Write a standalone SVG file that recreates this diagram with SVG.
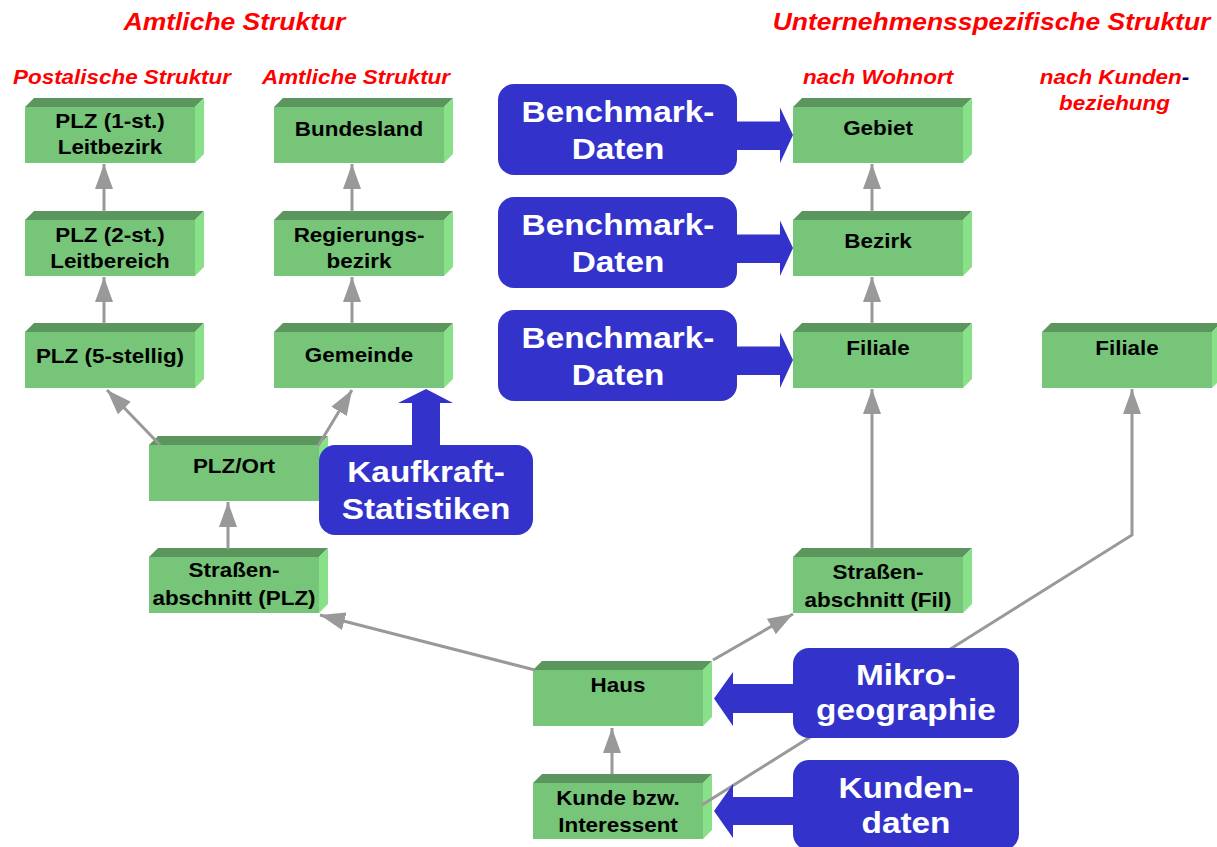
<svg xmlns="http://www.w3.org/2000/svg" width="1217" height="847" viewBox="0 0 1217 847">
<style>
text{font-family:"Liberation Sans",Arial,sans-serif;font-weight:bold;text-anchor:middle}
.t1{font-size:23px;font-style:italic;fill:#FF0000}
.t2{font-size:19.5px;font-style:italic;fill:#FF0000}
.bt{font-size:19.5px;fill:#000}
.wt{font-size:29px;fill:#fff}
.front{fill:#76C578}
.top{fill:#5B965F}
.side{fill:#88E088}
.blue{fill:#3333CC}
.ln{stroke:#999;stroke-width:3;fill:none}
</style>
<defs>
<marker id="ah" markerUnits="userSpaceOnUse" markerWidth="26" markerHeight="18" refX="25" refY="9" orient="auto">
<path d="M0,0 L25,9 L0,18 z" fill="#999"/>
</marker>
<g id="box">
<rect class="front" x="0" y="0" width="170" height="56"/>
<polygon class="top" points="0,0 9,-9 179,-9 170,0"/>
<polygon class="side" points="170,0 179,-9 179,47 170,56"/>
</g>
</defs>

<g id="titles">
<text class="t1" transform="translate(234.5,29.5) scale(1.15,1)">Amtliche Struktur</text>
<text class="t1" transform="translate(991.5,29.5) scale(1.15,1)">Unternehmensspezifische Struktur</text>
<text class="t2" transform="translate(122,84) scale(1.15,1)">Postalische Struktur</text>
<text class="t2" transform="translate(356,84) scale(1.15,1)">Amtliche Struktur</text>
<text class="t2" transform="translate(878,84) scale(1.15,1)">nach Wohnort</text>
<text class="t2" transform="translate(1114.5,84) scale(1.15,1)">nach Kunden<tspan fill="#000066">-</tspan></text>
<text class="t2" transform="translate(1114.5,110) scale(1.15,1)">beziehung</text>
</g>

<g id="plz1">
<use href="#box" x="25" y="107"/>
<text class="bt" transform="translate(110,128) scale(1.15,1)">PLZ (1-st.)</text>
<text class="bt" transform="translate(110,154) scale(1.15,1)">Leitbezirk</text>
</g>
<g id="plz2">
<use href="#box" x="25" y="220"/>
<text class="bt" transform="translate(110,242) scale(1.15,1)">PLZ (2-st.)</text>
<text class="bt" transform="translate(110,268) scale(1.15,1)">Leitbereich</text>
</g>
<g id="plz5">
<use href="#box" x="25" y="332"/>
<text class="bt" transform="translate(110,362.5) scale(1.15,1)">PLZ (5-stellig)</text>
</g>
<g id="bundesland">
<use href="#box" x="274" y="107"/>
<text class="bt" transform="translate(359,135.5) scale(1.15,1)">Bundesland</text>
</g>
<g id="regbezirk">
<use href="#box" x="274" y="220"/>
<text class="bt" transform="translate(359,242) scale(1.15,1)">Regierungs-</text>
<text class="bt" transform="translate(359,268) scale(1.15,1)">bezirk</text>
</g>
<g id="gemeinde">
<use href="#box" x="274" y="332"/>
<text class="bt" transform="translate(359,361.5) scale(1.15,1)">Gemeinde</text>
</g>
<g id="plzort">
<use href="#box" x="149" y="445"/>
<text class="bt" transform="translate(234,472.5) scale(1.15,1)">PLZ/Ort</text>
</g>
<g id="strplz">
<use href="#box" x="149" y="557"/>
<text class="bt" transform="translate(234,577) scale(1.15,1)">Straßen-</text>
<text class="bt" transform="translate(234,605) scale(1.15,1)">abschnitt (PLZ)</text>
</g>
<g id="gebiet">
<use href="#box" x="793" y="107"/>
<text class="bt" transform="translate(878,135) scale(1.15,1)">Gebiet</text>
</g>
<g id="bezirk">
<use href="#box" x="793" y="220"/>
<text class="bt" transform="translate(878,248) scale(1.15,1)">Bezirk</text>
</g>
<g id="filiale1">
<use href="#box" x="793" y="332"/>
<text class="bt" transform="translate(878,355) scale(1.15,1)">Filiale</text>
</g>
<g id="filiale2">
<use href="#box" x="1042" y="332"/>
<text class="bt" transform="translate(1127,355) scale(1.15,1)">Filiale</text>
</g>
<g id="strfil">
<use href="#box" x="793" y="557"/>
<text class="bt" transform="translate(878,579) scale(1.15,1)">Straßen-</text>
<text class="bt" transform="translate(878,607) scale(1.15,1)">abschnitt (Fil)</text>
</g>
<g id="haus">
<use href="#box" x="533" y="670"/>
<text class="bt" transform="translate(618,691.5) scale(1.15,1)">Haus</text>
</g>
<g id="kunde">
<use href="#box" x="533" y="783"/>
<text class="bt" transform="translate(618,805) scale(1.15,1)">Kunde bzw.</text>
<text class="bt" transform="translate(618,832) scale(1.15,1)">Interessent</text>
</g>

<g id="connectors">
<line class="ln" x1="104" y1="212" x2="104" y2="164" marker-end="url(#ah)"/>
<line class="ln" x1="104" y1="324" x2="104" y2="277" marker-end="url(#ah)"/>
<line class="ln" x1="352" y1="212" x2="352" y2="164" marker-end="url(#ah)"/>
<line class="ln" x1="352" y1="324" x2="352" y2="277" marker-end="url(#ah)"/>
<line class="ln" x1="872" y1="212" x2="872" y2="164" marker-end="url(#ah)"/>
<line class="ln" x1="872" y1="324" x2="872" y2="277" marker-end="url(#ah)"/>
<line class="ln" x1="872" y1="549" x2="872" y2="389" marker-end="url(#ah)"/>
<polyline class="ln" points="702,805 1132,535 1132,389" marker-end="url(#ah)"/>
<line class="ln" x1="612" y1="774" x2="612" y2="728" marker-end="url(#ah)"/>
<line class="ln" x1="228" y1="549" x2="228" y2="502" marker-end="url(#ah)"/>
<line class="ln" x1="160" y1="445" x2="107" y2="390" marker-end="url(#ah)"/>
<line class="ln" x1="318" y1="446" x2="352" y2="390" marker-end="url(#ah)"/>
<line class="ln" x1="535" y1="670" x2="320" y2="615" marker-end="url(#ah)"/>
<line class="ln" x1="713" y1="660" x2="793" y2="614" marker-end="url(#ah)"/>
<polygon class="blue" points="737,121.5 780,121.5 780,107.5 793,135 780,163 780,150 737,150"/>
<polygon class="blue" points="737,234.5 780,234.5 780,220.5 793,248 780,276 780,263 737,263"/>
<polygon class="blue" points="737,346.5 780,346.5 780,332.5 793,360 780,388 780,375 737,375"/>
<polygon class="blue" points="412,445 412,403 398,403 426,389 453,403 440,403 440,445"/>
<polygon class="blue" points="793,684 733,684 733,672 714,698.5 733,726 733,713 793,713"/>
<polygon class="blue" points="793,797 733,797 733,784 714,811 733,838 733,825 793,825"/>
</g>

<g id="bench1">
<rect class="blue" x="498" y="84" width="239" height="91" rx="16"/>
<text class="wt" transform="translate(618,121.5) scale(1.15,1)">Benchmark-</text>
<text class="wt" transform="translate(618,158.5) scale(1.15,1)">Daten</text>
</g>
<g id="bench2">
<rect class="blue" x="498" y="197" width="239" height="91" rx="16"/>
<text class="wt" transform="translate(618,234.5) scale(1.15,1)">Benchmark-</text>
<text class="wt" transform="translate(618,271.5) scale(1.15,1)">Daten</text>
</g>
<g id="bench3">
<rect class="blue" x="498" y="310" width="239" height="91" rx="16"/>
<text class="wt" transform="translate(618,347.5) scale(1.15,1)">Benchmark-</text>
<text class="wt" transform="translate(618,384.5) scale(1.15,1)">Daten</text>
</g>
<g id="kaufkraft">
<rect class="blue" x="319" y="445" width="214" height="90" rx="16"/>
<text class="wt" transform="translate(426,482) scale(1.15,1)">Kaufkraft-</text>
<text class="wt" transform="translate(426,518.5) scale(1.15,1)">Statistiken</text>
</g>
<g id="mikro">
<rect class="blue" x="793" y="648" width="226" height="90" rx="16"/>
<text class="wt" transform="translate(906,685) scale(1.15,1)">Mikro-</text>
<text class="wt" transform="translate(906,720) scale(1.15,1)">geographie</text>
</g>
<g id="kundendaten">
<rect class="blue" x="793" y="760" width="226" height="90" rx="16"/>
<text class="wt" transform="translate(906,798) scale(1.15,1)">Kunden-</text>
<text class="wt" transform="translate(906,833) scale(1.15,1)">daten</text>
</g>
</svg>
